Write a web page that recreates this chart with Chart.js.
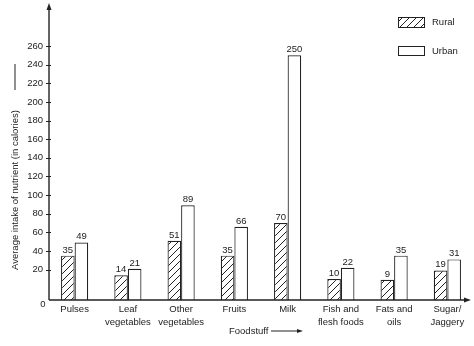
<!DOCTYPE html>
<html>
<head>
<meta charset="utf-8">
<script src="https://cdn.jsdelivr.net/npm/chart.js@4.4.1/dist/chart.umd.min.js"></script>
<style>
html,body{margin:0;padding:0;background:#fff;}
#wrap{width:474px;height:346px;}
</style>
</head>
<body>
<div id="wrap"><canvas id="c" width="474" height="346"></canvas></div>
<script>
// ---- data ----
const categories = [["Pulses"], ["Leaf","vegetables"], ["Other","vegetables"], ["Fruits"], ["Milk"], ["Fish and","flesh foods"], ["Fats and","oils"], ["Sugar/","Jaggery"]];
const seriesNames = ["Rural", "Urban"];
const rural = [35, 14, 51, 35, 70, 10, 9, 19];
const urban = [49, 21, 89, 66, 250, 22, 35, 31];
const yTickValues = [0, 20, 40, 60, 80, 100, 120, 140, 160, 180, 200, 220, 240, 260];
const yTitle = "Average intake of nutrient (in calories)";
const xTitle = "Foodstuff";

// ---- styling ----
const INK = '#222';
const FONT = '"Liberation Sans", Arial, sans-serif';
const AXIS_BASE = -12.6;   // the drawn axis sits a little below the value 0
const AXIS_MAX = 297.9;

function hatchPattern() {
  const s = 7;
  const cv = document.createElement('canvas');
  cv.width = s; cv.height = s;
  const g = cv.getContext('2d');
  g.fillStyle = '#fff'; g.fillRect(0, 0, s, s);
  g.strokeStyle = INK; g.lineWidth = 1;
  g.beginPath();
  g.moveTo(0, s); g.lineTo(s, 0);
  g.moveTo(-1, 1); g.lineTo(1, -1);
  g.moveTo(s - 1, s + 1); g.lineTo(s + 1, s - 1);
  g.stroke();
  return g.createPattern(cv, 'repeat');
}
const hatch = hatchPattern();

const extras = {
  id: 'extras',
  afterDatasetsDraw(chart) {
    const ctx = chart.ctx;
    ctx.save();
    ctx.fillStyle = INK;
    ctx.font = '9.5px ' + FONT;
    ctx.textAlign = 'center';
    ctx.textBaseline = 'bottom';
    chart.data.datasets.forEach((ds, di) => {
      chart.getDatasetMeta(di).data.forEach((el, i) => {
        ctx.fillText(String(ds.data[i]), el.x, el.y - 1);
      });
    });
    ctx.restore();
  },
  afterDraw(chart) {
    const ctx = chart.ctx;
    const a = chart.chartArea;
    const x0 = a.left + 1, y0 = a.bottom;
    const ys = chart.scales.y;
    ctx.save();
    ctx.strokeStyle = INK; ctx.fillStyle = INK; ctx.lineWidth = 1.4;
    // y axis with arrow
    ctx.beginPath(); ctx.moveTo(x0, y0); ctx.lineTo(x0, 8); ctx.stroke();
    ctx.beginPath(); ctx.moveTo(x0, 3); ctx.lineTo(x0 - 2.5, 10); ctx.lineTo(x0 + 2.5, 10); ctx.closePath(); ctx.fill();
    // small tick marks crossing the y axis
    ctx.lineWidth = 1;
    yTickValues.forEach(v => {
      if (v === 0) return;
      const py = Math.round(ys.getPixelForValue(v)) + 0.5;
      ctx.beginPath(); ctx.moveTo(x0 - 3, py); ctx.lineTo(x0 + 2, py); ctx.stroke();
    });
    // x axis with arrow
    ctx.lineWidth = 1.4;
    ctx.beginPath(); ctx.moveTo(x0, y0); ctx.lineTo(466, y0); ctx.stroke();
    ctx.beginPath(); ctx.moveTo(471, y0); ctx.lineTo(464, y0 - 2.5); ctx.lineTo(464, y0 + 2.5); ctx.closePath(); ctx.fill();

    // "0" at the origin
    ctx.font = '9.5px ' + FONT;
    ctx.textAlign = 'center'; ctx.textBaseline = 'middle';
    ctx.fillText('0', 43, 304);

    // x title + arrow
    ctx.textAlign = 'left'; ctx.textBaseline = 'middle';
    ctx.fillText(xTitle, 229, 331);
    ctx.lineWidth = 1;
    ctx.beginPath(); ctx.moveTo(271, 331); ctx.lineTo(299, 331); ctx.stroke();
    ctx.beginPath(); ctx.moveTo(303, 331); ctx.lineTo(297, 329); ctx.lineTo(297, 333); ctx.closePath(); ctx.fill();

    // y title + arrow
    ctx.save();
    ctx.translate(15, 270);
    ctx.rotate(-Math.PI / 2);
    ctx.font = '9.5px ' + FONT;
    ctx.textAlign = 'left'; ctx.textBaseline = 'middle';
    ctx.fillText(yTitle, 0, 0);
    ctx.restore();
    ctx.lineWidth = 1;
    ctx.beginPath(); ctx.moveTo(15, 90); ctx.lineTo(15, 64); ctx.stroke();

    // legend
    const items = [
      {y: 17, h: 10, fill: hatch, label: seriesNames[0]},
      {y: 46, h: 9, fill: '#fff', label: seriesNames[1]}
    ];
    items.forEach(it => {
      ctx.fillStyle = it.fill;
      ctx.fillRect(398, it.y, 26, it.h);
      ctx.strokeStyle = INK; ctx.lineWidth = 1;
      ctx.strokeRect(398.5, it.y + 0.5, 26, it.h);
      ctx.fillStyle = INK;
      ctx.font = '9.5px ' + FONT;
      ctx.textAlign = 'left'; ctx.textBaseline = 'middle';
      ctx.fillText(it.label, 432, it.y + it.h / 2 + 0.5);
    });
    ctx.restore();
  }
};

new Chart(document.getElementById('c'), {
  type: 'bar',
  data: {
    labels: categories,
    datasets: [
      {label: seriesNames[0], data: rural, base: AXIS_BASE, backgroundColor: hatch, borderColor: INK, borderWidth: 1.2},
      {label: seriesNames[1], data: urban, base: AXIS_BASE, backgroundColor: '#fff', borderColor: INK, borderWidth: 1.2}
    ]
  },
  options: {
    responsive: false,
    animation: false,
    devicePixelRatio: 1,
    layout: {padding: {top: 5, left: 0, right: 0, bottom: 0}},
    datasets: {bar: {categoryPercentage: 0.51, barPercentage: 1.0}},
    plugins: {legend: {display: false}, tooltip: {enabled: false}},
    scales: {
      x: {
        offset: true,
        border: {display: false},
        grid: {display: false, drawTicks: false},
        ticks: {color: INK, font: {family: FONT, size: 9.5, lineHeight: 1.35}, padding: 3, maxRotation: 0, autoSkip: false},
        afterFit(scale) { scale.height = 46; }
      },
      y: {
        min: AXIS_BASE,
        max: AXIS_MAX,
        border: {display: false},
        grid: {display: false, drawTicks: false},
        ticks: {
          color: INK, font: {family: FONT, size: 9.5}, padding: 5,
          callback(v) { return v === AXIS_BASE ? '' : String(v); }
        },
        afterBuildTicks(scale) {
          scale.ticks = yTickValues.map(v => ({value: v === 0 ? AXIS_BASE : v}));
        },
        afterFit(scale) { scale.width = 48; }
      }
    }
  },
  plugins: [extras]
});
</script>
</body>
</html>
